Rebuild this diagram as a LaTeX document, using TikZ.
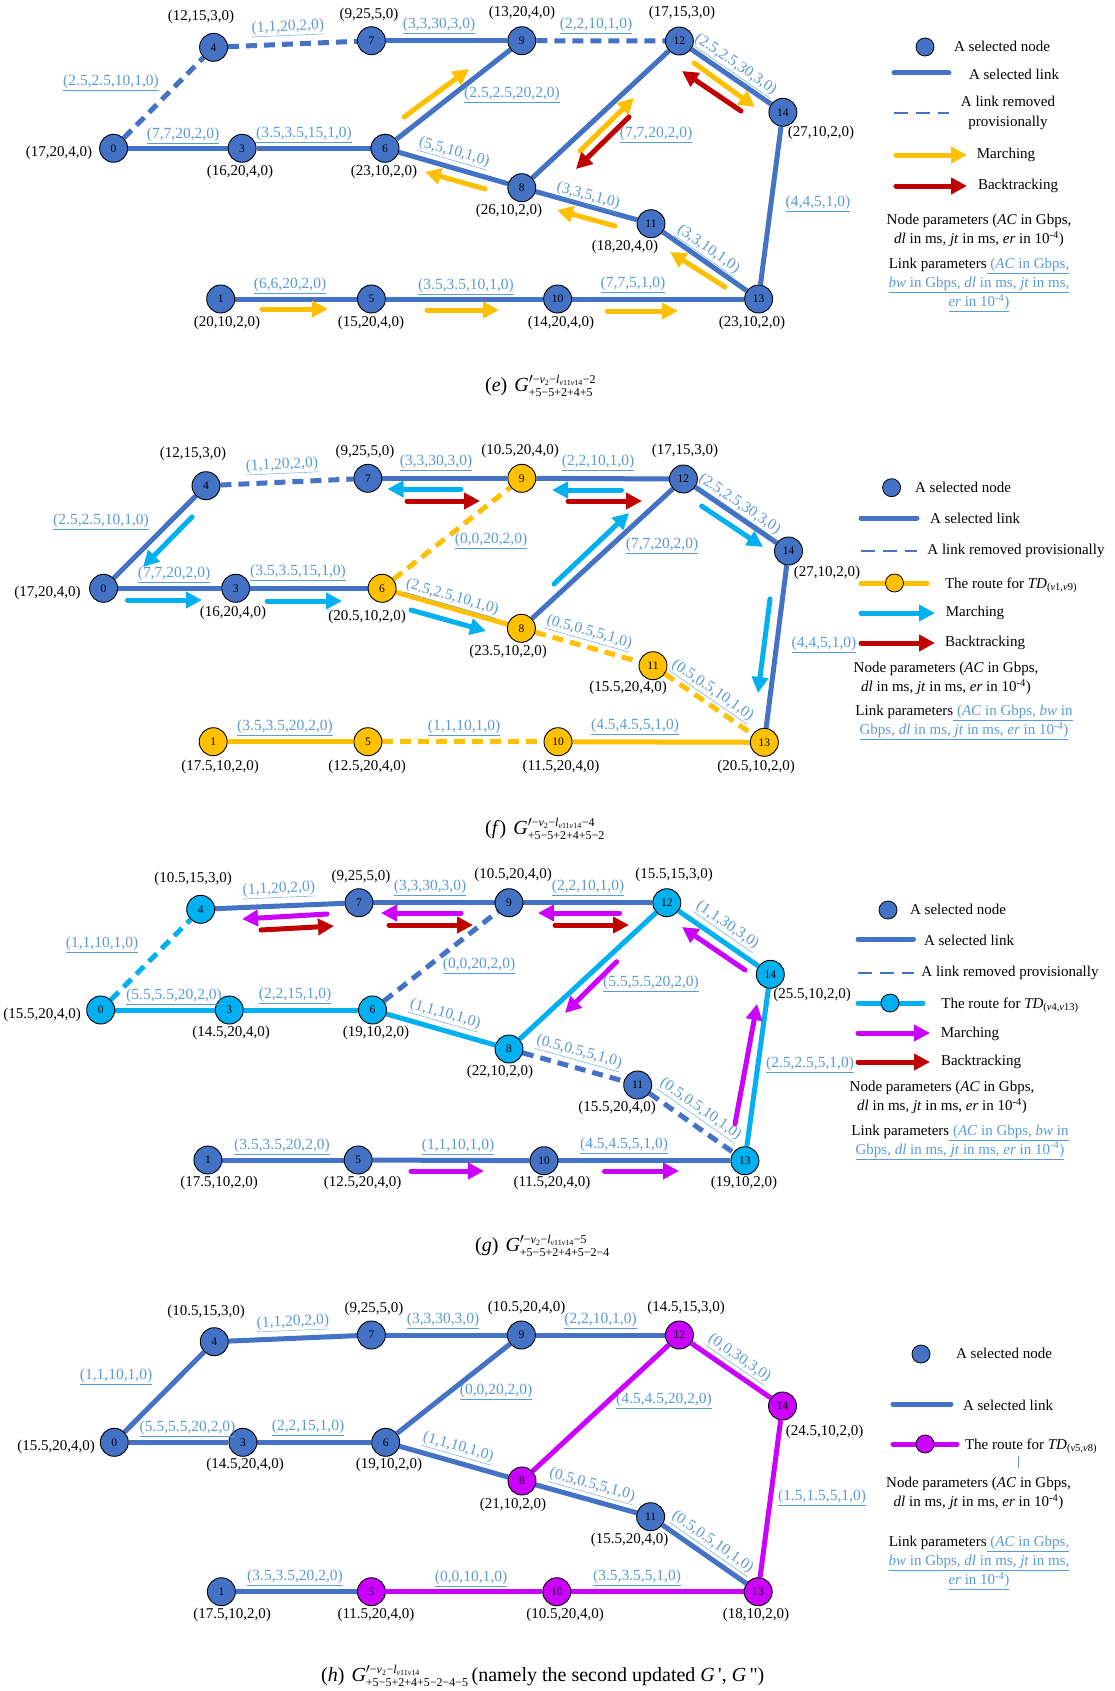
\documentclass[tikz,border=0pt]{standalone}
\usepackage{fontspec}
\setmainfont{Liberation Serif}
\usetikzlibrary{arrows.meta,backgrounds}
\definecolor{nblue}{RGB}{68,114,196}
\definecolor{norange}{RGB}{255,192,0}
\definecolor{ncyan}{RGB}{0,176,240}
\definecolor{nmag}{RGB}{204,0,255}
\definecolor{nred}{RGB}{192,0,0}
\definecolor{lblue}{RGB}{91,155,213}
\newcommand{\supv}{−\textit{v}\textsubscript{2}−\textit{l}\textsubscript{\textit{v}11\textit{v}14}}
\newcommand{\capG}[2]{\textit{G}$'^{\hbox{\fontsize{12}{12}\selectfont #1}}_{\hbox{\fontsize{12}{12}\selectfont #2}}$}
\newcommand{\TDs}[2]{\textit{TD}\textsubscript{(\textit{v}#1,\textit{v}#2)}}
\tikzset{
 nd/.style={circle, draw=black, line width=0.9pt, minimum size=28pt, inner sep=0pt, font=\fontsize{11.5}{11.5}\selectfont},
 bn/.style={nd, fill=nblue},
 yn/.style={nd, fill=norange},
 cn/.style={nd, fill=ncyan},
 mn/.style={nd, fill=nmag},
 ed/.style={line width=5pt},
 be/.style={ed, draw=nblue},
 ye/.style={ed, draw=norange},
 ce/.style={ed, draw=ncyan},
 me/.style={ed, draw=nmag},
 dsh/.style={dash pattern=on 11pt off 7pt},
 nl/.style={font=\fontsize{15}{16}\selectfont, inner sep=0pt},
 ll/.style={font=\fontsize{15.5}{16}\selectfont, text=lblue, inner sep=0pt},
 arw/.style={line width=5pt, line cap=round, -{Triangle[length=16pt,width=16pt]}},
 ya/.style={arw, draw=norange},
 ra/.style={arw, draw=nred},
 ca/.style={arw, draw=ncyan},
 ma/.style={arw, draw=nmag},
 lg/.style={font=\fontsize{15}{20}\selectfont, inner sep=0pt},
 lgp/.style={font=\fontsize{15}{19}\selectfont, inner sep=0pt, align=center},
 lgn/.style={circle, draw=black, line width=0.8pt, minimum size=18pt, inner sep=0pt},
 legdash/.style={draw=nblue, line width=2.5pt, dash pattern=on 14pt off 8pt},
 captxt/.style={font=\fontsize{20}{22}\selectfont, inner sep=0pt, anchor=base west},
}
\begin{document}
\begin{tikzpicture}[x=1pt,y=-1pt]
\useasboundingbox (0,0) rectangle (1114,1691);
\begin{scope}[on background layer]
\fill[white] (0,0) rectangle (1114,1691);
\end{scope}

%================ PANEL E =================
\node[bn] (e0) at (113.6,148.3) {0};
\node[bn] (e4) at (213.6,47.3) {4};
\node[bn] (e7) at (371.4,40.7) {7};
\node[bn] (e9) at (521.8,40.7) {9};
\node[bn] (e12) at (679.4,41) {12};
\node[bn] (e14) at (782.9,112.3) {14};
\node[bn] (e3) at (242.1,148.3) {3};
\node[bn] (e6) at (385,148.3) {6};
\node[bn] (e8) at (521.8,187.7) {8};
\node[bn] (e11) at (651,223.7) {11};
\node[bn] (e13) at (758.6,299) {13};
\node[bn] (e1) at (220.7,299) {1};
\node[bn] (e5) at (371.4,299) {5};
\node[bn] (e10) at (557.6,299) {10};
\begin{scope}[on background layer]
\draw[be,dsh] (e0) -- (e4);
\draw[be,dsh] (e4) -- (e7);
\draw[be] (e7) -- (e9);
\draw[be,dsh] (e9) -- (e12);
\draw[be] (e0) -- (e3);
\draw[be] (e3) -- (e6);
\draw[be] (e6) -- (e9);
\draw[be] (e6) -- (e8);
\draw[be] (e8) -- (e12);
\draw[be] (e8) -- (e11);
\draw[be] (e11) -- (e13);
\draw[be] (e12) -- (e14);
\draw[be] (e14) -- (e13);
\draw[be] (e1) -- (e5);
\draw[be] (e5) -- (e10);
\draw[be] (e10) -- (e13);
\end{scope}
\node[nl] (eP0) at (59,153) {(17,20,4,0)};
\node[nl] (eP4) at (201,17) {(12,15,3,0)};
\node[nl] (eP7) at (369,15) {(9,25,5,0)};
\node[nl] (eP9) at (522,13) {(13,20,4,0)};
\node[nl] (eP12) at (682,13) {(17,15,3,0)};
\node[nl] (eP14) at (821,133) {(27,10,2,0)};
\node[nl] (eP3) at (240,172) {(16,20,4,0)};
\node[nl] (eP6) at (384,172) {(23,10,2,0)};
\node[nl] (eP8) at (509,211) {(26,10,2,0)};
\node[nl] (eP11) at (625,247) {(18,20,4,0)};
\node[nl] (eP1) at (227,323) {(20,10,2,0)};
\node[nl] (eP5) at (371,323) {(15,20,4,0)};
\node[nl] (eP10) at (561,323) {(14,20,4,0)};
\node[nl] (eP13) at (752,323) {(23,10,2,0)};
\node[ll] (eL04) at (111,83) {\underline{(2.5,2.5,10,1,0)}};
\node[ll, rotate=2.4] (eL47) at (288,28) {\underline{(1,1,20,2,0)}};
\node[ll] (eL79) at (439,26) {\underline{(3,3,30,3,0)}};
\node[ll] (eL912) at (596,26) {\underline{(2,2,10,1,0)}};
\node[ll] (eL69) at (512,95) {\underline{(2.5,2.5,20,2,0)}};
\node[ll] (eL03) at (183,136) {\underline{(7,7,20,2,0)}};
\node[ll] (eL36) at (304,135) {\underline{(3.5,3.5,15,1,0)}};
\node[ll, rotate=-16] (eL68) at (454,153) {\underline{(5,5,10,1,0)}};
\node[ll, rotate=-34.6] (eL1214) at (735,65) {\underline{(2.5,2.5,30,3,0)}};
\node[ll] (eL812) at (656,135) {\underline{(7,7,20,2,0)}};
\node[ll, rotate=-15.6] (eL811) at (588,197) {\underline{(3,3,5,1,0)}};
\node[ll, rotate=-35] (eL1113) at (708,250) {\underline{(3,3,10,1,0)}};
\node[ll] (eL1413) at (818,204) {\underline{(4,4,5,1,0)}};
\node[ll] (eL15) at (290,286) {\underline{(6,6,20,2,0)}};
\node[ll] (eL510) at (466,287) {\underline{(3.5,3.5,10,1,0)}};
\node[ll] (eL1013) at (633,285) {\underline{(7,7,5,1,0)}};
\draw[ya] (404,117) -- (469,69);
\draw[ya] (485,189) -- (425,172);
\draw[ya] (580,151) -- (634,98);
\draw[ra] (629,117) -- (576,169);
\draw[ya] (694,63) -- (755,107);
\draw[ra] (741,111) -- (682,71);
\draw[ya] (615,226) -- (557,210);
\draw[ya] (725,287) -- (670,252);
\draw[ya] (262,309) -- (328,309);
\draw[ya] (427,310) -- (499,310);
\draw[ya] (607,311) -- (678,311);
% legend e
\node[lgn, fill=nblue] (eK1) at (925,47) {};
\node[lg] (eT1) at (1002,46) {A selected node};
\coordinate (eK2a) at (894,73); \coordinate (eK2b) at (949,73);
\draw[be, line cap=round] (eK2a) -- (eK2b);
\node[lg] (eT2) at (1014,74) {A selected link};
\coordinate (eK3a) at (894,113); \coordinate (eK3b) at (949,113);
\draw[legdash] (eK3a) -- (eK3b);
\node[lg, align=center] (eT3) at (1008,113) {A link removed\\provisionally};
\coordinate (eK4a) at (896,155); \coordinate (eK4b) at (967,155);
\draw[ya] (eK4a) -- (eK4b);
\node[lg] (eT4) at (1006,155) {Marching};
\coordinate (eK5a) at (896,186); \coordinate (eK5b) at (967,186);
\draw[ra] (eK5a) -- (eK5b);
\node[lg] (eT5) at (1018,186) {Backtracking};
\node[lgp] (eT6) at (979,230.5) {Node parameters (\textit{AC} in Gbps,\\\textit{dl} in ms, \textit{jt} in ms, \textit{er} in 10\textsuperscript{-4})};
\node[lgp] (eT7) at (979,285) {Link parameters\textcolor{lblue}{\underline{\ (\textit{AC} in Gbps,}}\\\textcolor{lblue}{\underline{\textit{bw} in Gbps, \textit{dl} in ms, \textit{jt} in ms,}}\\\textcolor{lblue}{\underline{\textit{er} in 10\textsuperscript{-4})}}};
\node[captxt] (ecap) at (485,391) {(\textit{e})\hspace{7pt}\capG{\supv−2}{+5−5+2+4+5}};

%================ PANEL F =================
\node[bn] (f0) at (103.6,588.3) {0};
\node[bn] (f4) at (206,485.7) {4};
\node[bn] (f7) at (367.9,478.3) {7};
\node[yn] (f9) at (521.8,478.3) {9};
\node[bn] (f12) at (683.4,479) {12};
\node[bn] (f14) at (788.5,551) {14};
\node[bn] (f3) at (235.7,588.3) {3};
\node[yn] (f6) at (382.1,588.3) {6};
\node[yn] (f8) at (521.4,628.3) {8};
\node[yn] (f11) at (653,665.7) {11};
\node[yn] (f13) at (764.3,742.3) {13};
\node[yn] (f1) at (213.2,741.7) {1};
\node[yn] (f5) at (367.9,741.7) {5};
\node[yn] (f10) at (558,741.7) {10};
\begin{scope}[on background layer]
\draw[be] (f0) -- (f4);
\draw[be,dsh] (f4) -- (f7);
\draw[be] (f7) -- (f9);
\draw[be] (f9) -- (f12);
\draw[be] (f0) -- (f3);
\draw[be] (f3) -- (f6);
\draw[ye,dsh] (f6) -- (f9);
\draw[ye] (f6) -- (f8);
\draw[be] (f8) -- (f12);
\draw[ye,dsh] (f8) -- (f11);
\draw[ye,dsh] (f11) -- (f13);
\draw[be] (f12) -- (f14);
\draw[be] (f14) -- (f13);
\draw[ye] (f1) -- (f5);
\draw[ye,dsh] (f5) -- (f10);
\draw[ye] (f10) -- (f13);
\end{scope}
\node[nl] (fP0) at (47.5,593) {(17,20,4,0)};
\node[nl] (fP4) at (193,454) {(12,15,3,0)};
\node[nl] (fP7) at (365,452) {(9,25,5,0)};
\node[nl] (fP9) at (520,451) {(10.5,20,4,0)};
\node[nl] (fP12) at (685,451) {(17,15,3,0)};
\node[nl] (fP14) at (827,573) {(27,10,2,0)};
\node[nl] (fP3) at (233,613) {(16,20,4,0)};
\node[nl] (fP6) at (367,617) {(20.5,10,2,0)};
\node[nl] (fP8) at (508,652) {(23.5,10,2,0)};
\node[nl] (fP11) at (628,688) {(15.5,20,4,0)};
\node[nl] (fP1) at (220,767) {(17.5,10,2,0)};
\node[nl] (fP5) at (367,767) {(12.5,20,4,0)};
\node[nl] (fP10) at (561,767) {(11.5,20,4,0)};
\node[nl] (fP13) at (756,767) {(20.5,10,2,0)};
\node[ll] (fL04) at (101,522) {\underline{(2.5,2.5,10,1,0)}};
\node[ll, rotate=2.6] (fL47) at (282,466) {\underline{(1,1,20,2,0)}};
\node[ll] (fL79) at (436,463) {\underline{(3,3,30,3,0)}};
\node[ll] (fL912) at (598,463) {\underline{(2,2,10,1,0)}};
\node[ll] (fL69) at (491,541) {\underline{(0,0,20,2,0)}};
\node[ll] (fL03) at (174,575) {\underline{(7,7,20,2,0)}};
\node[ll] (fL36) at (298,573) {\underline{(3.5,3.5,15,1,0)}};
\node[ll, rotate=-16] (fL68) at (452,598) {\underline{(2.5,2.5,10,1,0)}};
\node[ll] (fL812) at (662,546) {\underline{(7,7,20,2,0)}};
\node[ll, rotate=-34.4] (fL1214) at (739,505) {\underline{(2.5,2.5,30,3,0)}};
\node[ll, rotate=-15.9] (fL811) at (589,633) {\underline{(0.5,0.5,5,1,0)}};
\node[ll, rotate=-34.5] (fL1113) at (712,691) {\underline{(0.5,0.5,10,1,0)}};
\node[ll] (fL1413) at (824,645) {\underline{(4,4,5,1,0)}};
\node[ll] (fL15) at (285,728) {\underline{(3.5,3.5,20,2,0)}};
\node[ll] (fL510) at (464,728) {\underline{(1,1,10,1,0)}};
\node[ll] (fL1013) at (635,727) {\underline{(4.5,4.5,5,1,0)}};
\draw[ca] (192,517) -- (143,567);
\draw[ca] (127.5,600) -- (202,600);
\draw[ca] (267,601) -- (342,601);
\draw[ca] (411,610) -- (486,631);
\draw[ca] (461,489) -- (387.5,489);
\draw[ra] (407,501) -- (480,501);
\draw[ca] (621.5,490) -- (552,490);
\draw[ra] (568,501) -- (642,501);
\draw[ca] (554,584) -- (629,513);
\draw[ca] (701.6,506) -- (763,547);
\draw[ca] (770,599) -- (758,693);
% legend f
\node[lgn, fill=nblue] (fK1) at (891.6,487.7) {};
\node[lg] (fT1) at (963,487) {A selected node};
\coordinate (fK2a) at (861,518); \coordinate (fK2b) at (917,518);
\draw[be, line cap=round] (fK2a) -- (fK2b);
\node[lg] (fT2) at (975,518) {A selected link};
\coordinate (fK3a) at (861,551); \coordinate (fK3b) at (917,551);
\draw[legdash] (fK3a) -- (fK3b);
\node[lg] (fT3) at (1016,551) {A link removed provisionally};
\coordinate (fK4a) at (861,583); \coordinate (fK4b) at (927,583);
\draw[ye, line cap=round] (fK4a) -- (fK4b);
\node[lgn, fill=norange] (fK4) at (894.5,583) {};
\node[lg] (fT4) at (1011,585) {The route for \TDs{1}{9}};
\coordinate (fK5a) at (861,613); \coordinate (fK5b) at (935,613);
\draw[ca] (fK5a) -- (fK5b);
\node[lg] (fT5) at (975,613) {Marching};
\coordinate (fK6a) at (861,643); \coordinate (fK6b) at (935,643);
\draw[ra] (fK6a) -- (fK6b);
\node[lg] (fT6) at (985,643) {Backtracking};
\node[lgp] (fT7) at (946,678.5) {Node parameters (\textit{AC} in Gbps,\\\textit{dl} in ms, \textit{jt} in ms, \textit{er} in 10\textsuperscript{-4})};
\node[lgp] (fT8) at (964,722.5) {Link parameters\textcolor{lblue}{\underline{\ (\textit{AC} in Gbps, \textit{bw} in}}\\\textcolor{lblue}{\underline{Gbps, \textit{dl} in ms, \textit{jt} in ms, \textit{er} in 10\textsuperscript{-4})}}};
\node[captxt] (fcap) at (485,834) {(\textit{f})\hspace{7pt}\capG{\supv−4}{+5−5+2+4+5−2}};

%================ PANEL G =================
\node[cn] (g0) at (100.7,1010) {0};
\node[cn] (g4) at (200.7,909.3) {4};
\node[bn] (g7) at (359,902.7) {7};
\node[bn] (g9) at (509,902.7) {9};
\node[cn] (g12) at (666.8,902.7) {12};
\node[cn] (g14) at (770.3,974.3) {14};
\node[cn] (g3) at (229.3,1010) {3};
\node[cn] (g6) at (372.5,1010) {6};
\node[cn] (g8) at (509,1049) {8};
\node[bn] (g11) at (637.7,1085) {11};
\node[cn] (g13) at (744.9,1160.7) {13};
\node[bn] (g1) at (207.9,1160) {1};
\node[bn] (g5) at (358.2,1160) {5};
\node[bn] (g10) at (544,1160.7) {10};
\begin{scope}[on background layer]
\draw[ce,dsh] (g0) -- (g4);
\draw[be] (g4) -- (g7);
\draw[be] (g7) -- (g9);
\draw[be] (g9) -- (g12);
\draw[ce] (g0) -- (g3);
\draw[ce] (g3) -- (g6);
\draw[be,dsh] (g6) -- (g9);
\draw[ce] (g6) -- (g8);
\draw[ce] (g8) -- (g12);
\draw[be,dsh] (g8) -- (g11);
\draw[be,dsh] (g11) -- (g13);
\draw[ce] (g12) -- (g14);
\draw[ce] (g14) -- (g13);
\draw[be] (g1) -- (g5);
\draw[be] (g5) -- (g10);
\draw[be] (g10) -- (g13);
\end{scope}
\node[nl] (gP0) at (42,1015) {(15.5,20,4,0)};
\node[nl] (gP4) at (193,879) {(10.5,15,3,0)};
\node[nl] (gP7) at (361,877) {(9,25,5,0)};
\node[nl] (gP9) at (513,875) {(10.5,20,4,0)};
\node[nl] (gP12) at (674,875) {(15.5,15,3,0)};
\node[nl] (gP14) at (812,995) {(25.5,10,2,0)};
\node[nl] (gP3) at (231,1033) {(14.5,20,4,0)};
\node[nl] (gP6) at (376,1033) {(19,10,2,0)};
\node[nl] (gP8) at (500,1072) {(22,10,2,0)};
\node[nl] (gP11) at (617,1108) {(15.5,20,4,0)};
\node[nl] (gP1) at (219,1183) {(17.5,10,2,0)};
\node[nl] (gP5) at (362.5,1183) {(12.5,20,4,0)};
\node[nl] (gP10) at (552,1183) {(11.5,20,4,0)};
\node[nl] (gP13) at (744,1183) {(19,10,2,0)};
\node[ll] (gL04) at (102,945) {\underline{(1,1,10,1,0)}};
\node[ll, rotate=2.4] (gL47) at (279,890) {\underline{(1,1,20,2,0)}};
\node[ll] (gL79) at (430,888) {\underline{(3,3,30,3,0)}};
\node[ll] (gL912) at (588,888) {\underline{(2,2,10,1,0)}};
\node[ll] (gL69) at (479,966) {\underline{(0,0,20,2,0)}};
\node[ll] (gL03) at (174,997) {\underline{(5.5,5.5,20,2,0)}};
\node[ll] (gL36) at (295,996) {\underline{(2,2,15,1,0)}};
\node[ll, rotate=-16] (gL68) at (445,1015) {\underline{(1,1,10,1,0)}};
\node[ll] (gL812) at (651,984) {\underline{(5.5,5.5,20,2,0)}};
\node[ll, rotate=-34.7] (gL1214) at (727,926) {\underline{(1,1,30,3,0)}};
\node[ll, rotate=-15.6] (gL811) at (579,1053) {\underline{(0.5,0.5,5,1,0)}};
\node[ll, rotate=-35.2] (gL1113) at (700,1110) {\underline{(0.5,0.5,10,1,0)}};
\node[ll] (gL1413) at (810,1065) {\underline{(2.5,2.5,5,1,0)}};
\node[ll] (gL15) at (282,1147) {\underline{(3.5,3.5,20,2,0)}};
\node[ll] (gL510) at (458,1147) {\underline{(1,1,10,1,0)}};
\node[ll] (gL1013) at (624,1146) {\underline{(4.5,4.5,5,1,0)}};
\draw[ma] (327,914) -- (242,919);
\draw[ra] (261,930) -- (334,926);
\draw[ma] (461,913) -- (381,913);
\draw[ra] (389,925) -- (473,925);
\draw[ma] (619.5,913) -- (538,913);
\draw[ra] (555,925) -- (629,925);
\draw[ma] (616.7,961.7) -- (565,1013);
\draw[ma] (745,970) -- (682,927);
\draw[ma] (735,1124) -- (757,1004);
\draw[ma] (411,1171) -- (484,1171);
\draw[ma] (604.5,1171) -- (679,1171);
% legend g
\node[lgn, fill=nblue] (gK1) at (888,910) {};
\node[lg] (gT1) at (958,909) {A selected node};
\coordinate (gK2a) at (858,939); \coordinate (gK2b) at (913.5,939);
\draw[be, line cap=round] (gK2a) -- (gK2b);
\node[lg] (gT2) at (969,940) {A selected link};
\coordinate (gK3a) at (858,973); \coordinate (gK3b) at (913.5,973);
\draw[legdash] (gK3a) -- (gK3b);
\node[lg] (gT3) at (1010,973) {A link removed provisionally};
\coordinate (gK4a) at (858,1003); \coordinate (gK4b) at (923,1003);
\draw[ce, line cap=round] (gK4a) -- (gK4b);
\node[lgn, fill=ncyan] (gK4) at (890,1003) {};
\node[lg] (gT4) at (1010,1005) {The route for \TDs{4}{13}};
\coordinate (gK5a) at (858,1033); \coordinate (gK5b) at (930,1033);
\draw[ma] (gK5a) -- (gK5b);
\node[lg] (gT5) at (970,1034) {Marching};
\coordinate (gK6a) at (858,1062); \coordinate (gK6b) at (930,1062);
\draw[ra] (gK6a) -- (gK6b);
\node[lg] (gT6) at (981,1062) {Backtracking};
\node[lgp] (gT7) at (942,1097.5) {Node parameters (\textit{AC} in Gbps,\\\textit{dl} in ms, \textit{jt} in ms, \textit{er} in 10\textsuperscript{-4})};
\node[lgp] (gT8) at (960,1142) {Link parameters\textcolor{lblue}{\underline{\ (\textit{AC} in Gbps, \textit{bw} in}}\\\textcolor{lblue}{\underline{Gbps, \textit{dl} in ms, \textit{jt} in ms, \textit{er} in 10\textsuperscript{-4})}}};
\node[captxt] (gcap) at (475,1251) {(\textit{g})\hspace{7pt}\capG{\supv−5}{+5−5+2+4+5−2−4}};

%================ PANEL H =================
\node[bn] (h0) at (114.3,1442.3) {0};
\node[bn] (h4) at (214.3,1341.7) {4};
\node[bn] (h7) at (371.4,1335) {7};
\node[bn] (h9) at (521.4,1335) {9};
\node[mn] (h12) at (679.4,1335) {12};
\node[mn] (h14) at (782.5,1406) {14};
\node[bn] (h3) at (242.9,1442.3) {3};
\node[bn] (h6) at (385.7,1442.3) {6};
\node[mn] (h8) at (522,1481) {8};
\node[bn] (h11) at (650.6,1516.7) {11};
\node[mn] (h13) at (758.2,1591.7) {13};
\node[bn] (h1) at (221.4,1591.7) {1};
\node[mn] (h5) at (371.4,1591.7) {5};
\node[mn] (h10) at (556.8,1591.7) {10};
\begin{scope}[on background layer]
\draw[be] (h0) -- (h4);
\draw[be] (h4) -- (h7);
\draw[be] (h7) -- (h9);
\draw[be] (h9) -- (h12);
\draw[be] (h0) -- (h3);
\draw[be] (h3) -- (h6);
\draw[be] (h6) -- (h9);
\draw[be] (h6) -- (h8);
\draw[me] (h8) -- (h12);
\draw[be] (h8) -- (h11);
\draw[be] (h11) -- (h13);
\draw[me] (h12) -- (h14);
\draw[me] (h14) -- (h13);
\draw[be] (h1) -- (h5);
\draw[me] (h5) -- (h10);
\draw[me] (h10) -- (h13);
\end{scope}
\node[nl] (hP0) at (56,1447) {(15.5,20,4,0)};
\node[nl] (hP4) at (206,1312) {(10.5,15,3,0)};
\node[nl] (hP7) at (374,1309) {(9,25,5,0)};
\node[nl] (hP9) at (526.5,1308) {(10.5,20,4,0)};
\node[nl] (hP12) at (686,1308) {(14.5,15,3,0)};
\node[nl] (hP14) at (824.5,1432) {(24.5,10,2,0)};
\node[nl] (hP3) at (245,1465) {(14.5,20,4,0)};
\node[nl] (hP6) at (389,1465) {(19,10,2,0)};
\node[nl] (hP8) at (513,1505) {(21,10,2,0)};
\node[nl] (hP11) at (629.6,1540) {(15.5,20,4,0)};
\node[nl] (hP1) at (232,1615) {(17.5,10,2,0)};
\node[nl] (hP5) at (376,1615) {(11.5,20,4,0)};
\node[nl] (hP10) at (565,1615) {(10.5,20,4,0)};
\node[nl] (hP13) at (756,1615) {(18,10,2,0)};
\node[ll] (hL04) at (116,1377) {\underline{(1,1,10,1,0)}};
\node[ll, rotate=2.4] (hL47) at (293,1323) {\underline{(1,1,20,2,0)}};
\node[ll] (hL79) at (443,1321) {\underline{(3,3,30,3,0)}};
\node[ll] (hL912) at (600.5,1321) {\underline{(2,2,10,1,0)}};
\node[ll] (hL69) at (496,1392) {\underline{(0,0,20,2,0)}};
\node[ll] (hL03) at (187.5,1429) {\underline{(5.5,5.5,20,2,0)}};
\node[ll] (hL36) at (308,1428) {\underline{(2,2,15,1,0)}};
\node[ll, rotate=-15.9] (hL68) at (458,1448) {\underline{(1,1,10,1,0)}};
\node[ll] (hL812) at (664,1401) {\underline{(4.5,4.5,20,2,0)}};
\node[ll, rotate=-34.6] (hL1214) at (739,1359) {\underline{(0,0,30,3,0)}};
\node[ll, rotate=-15.5] (hL811) at (592,1486) {\underline{(0.5,0.5,5,1,0)}};
\node[ll, rotate=-34.9] (hL1113) at (712,1543) {\underline{(0.5,0.5,10,1,0)}};
\node[ll] (hL1413) at (822,1498) {\underline{(1.5,1.5,5,1,0)}};
\node[ll] (hL15) at (295,1578) {\underline{(3.5,3.5,20,2,0)}};
\node[ll] (hL510) at (471,1579) {\underline{(0,0,10,1,0)}};
\node[ll] (hL1013) at (637,1578) {\underline{(3.5,3.5,5,1,0)}};
% legend h
\node[lgn, fill=nblue] (hK1) at (921,1354) {};
\node[lg] (hT1) at (1004,1353) {A selected node};
\coordinate (hK2a) at (893,1404); \coordinate (hK2b) at (951,1404);
\draw[be, line cap=round] (hK2a) -- (hK2b);
\node[lg] (hT2) at (1008,1405) {A selected link};
\coordinate (hK4a) at (893,1444); \coordinate (hK4b) at (957,1444);
\draw[me, line cap=round] (hK4a) -- (hK4b);
\node[lgn, fill=nmag] (hK4) at (925,1444) {};
\node[lg] (hT4) at (1031,1446) {The route for \TDs{5}{8}};
\draw[lblue, line width=0.8pt] (1018.6,1456) -- (1018.6,1468);
\node[lgp] (hT7) at (978.5,1493.5) {Node parameters (\textit{AC} in Gbps,\\\textit{dl} in ms, \textit{jt} in ms, \textit{er} in 10\textsuperscript{-4})};
\node[lgp] (hT8) at (979,1563) {Link parameters\textcolor{lblue}{\underline{\ (\textit{AC} in Gbps,}}\\\textcolor{lblue}{\underline{\textit{bw} in Gbps, \textit{dl} in ms, \textit{jt} in ms,}}\\\textcolor{lblue}{\underline{\textit{er} in 10\textsuperscript{-4})}}};
\node[captxt] (hcap) at (321,1681) {(\textit{h})\hspace{7pt}\capG{\supv}{+5−5+2+4+5−2−4−5}\hspace{3pt}(namely the second updated \textit{G}\,\textquotesingle, \textit{G}\,\textquotedbl)};
\end{tikzpicture}
\end{document}
